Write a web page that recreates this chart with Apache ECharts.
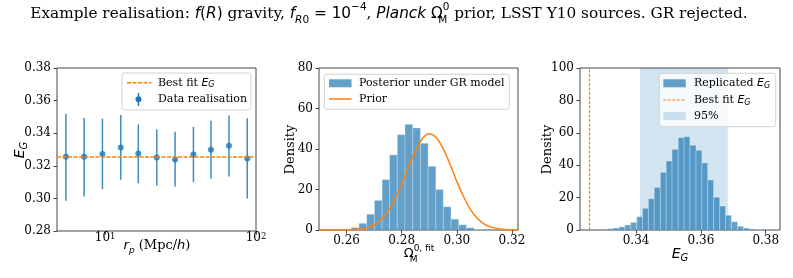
<!DOCTYPE html>
<html><head><meta charset="utf-8">
<script src="https://cdn.jsdelivr.net/npm/echarts@6/dist/echarts.min.js"></script>
<style>html,body{margin:0;padding:0;background:#fff}#c{width:793px;height:278px}</style>
</head><body><div id="c"></div><script>
// ---------- data ----------
const rpValues   = [5.5, 7.26, 9.6, 12.7, 16.6, 22.0, 29.1, 38.5, 50.3, 66.2, 87.5];
const egValues   = [0.3255, 0.3255, 0.3273, 0.3312, 0.3275, 0.3251, 0.3239, 0.3269, 0.3298, 0.3323, 0.3245];
const egLow      = [0.2986, 0.3011, 0.3056, 0.3114, 0.3093, 0.3077, 0.3073, 0.3099, 0.3122, 0.3134, 0.2999];
const egHigh     = [0.3519, 0.3493, 0.3489, 0.3511, 0.3454, 0.3423, 0.3409, 0.3439, 0.3476, 0.3509, 0.3491];
const bestFitEG  = 0.3255;

const postEdges   = [0.2617, 0.2645, 0.2673, 0.2701, 0.2729, 0.2756, 0.2784, 0.2812, 0.2840, 0.2868, 0.2896, 0.2924, 0.2951, 0.2979, 0.3007, 0.3035, 0.3063, 0.3090];
const postHeights = [1.2, 3.3, 7.8, 14.6, 24.9, 37.1, 47.1, 52.2, 50.4, 42.9, 31.5, 20.0, 11.5, 5.4, 2.6, 1.1, 0.3];

const priorX = [0.250, 0.255, 0.2600, 0.2625, 0.2650, 0.2675, 0.2700, 0.2725, 0.2750, 0.2775, 0.2800, 0.2825, 0.2850, 0.2875, 0.2900, 0.2925, 0.2950, 0.2975, 0.3000, 0.3025, 0.3050, 0.3075, 0.3100, 0.3125, 0.3150, 0.3175, 0.3200, 0.3225];
const priorY = [0.0, 0.0, 0.07, 0.2, 0.53, 1.23, 2.6, 5.2, 9.2, 15.1, 22.7, 31.2, 39.2, 45.1, 47.5, 45.7, 40.3, 32.6, 24.0, 16.3, 10.1, 5.7, 2.95, 1.4, 0.61, 0.24, 0.09, 0.02];

const repEdges   = [0.3310, 0.3328, 0.3347, 0.3365, 0.3383, 0.3402, 0.3420, 0.3438, 0.3456, 0.3475, 0.3493, 0.3511, 0.3530, 0.3548, 0.3566, 0.3585, 0.3603, 0.3621, 0.3639, 0.3658, 0.3676, 0.3694, 0.3713, 0.3731, 0.3749, 0.3768, 0.3786];
const repHeights = [0.8, 1.2, 1.9, 3.1, 4.7, 8.2, 13.4, 19.3, 26.3, 35.6, 42.6, 49.8, 57.0, 57.6, 52.3, 49.2, 41.4, 30.9, 20.2, 14.8, 9.1, 5.1, 2.3, 1.2, 0.6, 0.4];
const band95 = [0.3412, 0.3683];

const rpTicks = [10, 100];
const omTicks = [0.26, 0.28, 0.30, 0.32];
const repTicks = [0.34, 0.36, 0.38];

// ---------- style ----------
const SERIF = "'DejaVu Serif', serif";
const SANS = "'DejaVu Sans', sans-serif";
const BLUE = '#1f77b4', ORANGE = '#ff7f0e', SPINE = '#444';

const chart = echarts.init(document.getElementById('c'), null, {renderer: 'canvas'});

function yAx(gi, min, max, interval, fmt) {
  return {type: 'value', gridIndex: gi, min, max, interval,
    axisLine: {show: false}, splitLine: {show: false},
    axisTick: {show: true, length: 3.5, lineStyle: {color: SPINE, width: 1}},
    axisLabel: {color: '#000', fontFamily: SERIF, fontSize: 12, margin: 6, formatter: fmt}};
}
function xAx(gi, type, min, max, ticks, fmt, margin) {
  return {type, gridIndex: gi, min, max, logBase: 10,
    axisLine: {show: false}, splitLine: {show: false},
    axisTick: {show: true, length: 3.5, lineStyle: {color: SPINE, width: 1}, customValues: ticks},
    axisLabel: {color: '#000', fontFamily: SERIF, fontSize: 12, margin: margin, customValues: ticks, formatter: fmt,
      rich: {b: {fontFamily: SERIF, fontSize: 12, color: '#000', lineHeight: 12},
             s: {fontFamily: SERIF, fontSize: 8.5, color: '#000', verticalAlign: 'top', lineHeight: 8}}}};
}
const histRender = (params, api) => {
  const a = api.coord([api.value(0), api.value(2)]);
  const b = api.coord([api.value(1), 0]);
  return {type: 'rect', shape: {x: a[0], y: a[1], width: b[0] - a[0], height: b[1] - a[1]},
    style: {fill: 'rgba(31,119,180,0.7)', stroke: 'rgba(255,255,255,0.35)', lineWidth: 0.8}};
};
const histData = (edges, h) => h.map((v, i) => [edges[i], edges[i + 1], v]);

const gridBase = {show: true, borderColor: SPINE, borderWidth: 1, backgroundColor: 'transparent', containLabel: false, outerBoundsMode: 'none'};

function legendText(x, y, rich, text) {
  return {type: 'text', x, y, z: 101, style: {text, rich, fontFamily: SERIF, fontSize: 11, fill: '#000', verticalAlign: 'middle', align: 'left'}};
}
const legRich = {
  t: {fontFamily: SERIF, fontSize: 11, color: '#000'},
  i: {fontFamily: SANS, fontStyle: 'italic', fontSize: 11, color: '#000'},
  sub: {fontFamily: SANS, fontStyle: 'italic', fontSize: 8, color: '#000', verticalAlign: 'bottom', padding: [5, 0, 0, 0]}
};

const option = {
  animation: false,
  backgroundColor: '#fff',
  grid: [
    Object.assign({left: 57, top: 68, width: 199, height: 163}, gridBase),
    Object.assign({left: 319, top: 68, width: 199, height: 162}, gridBase),
    Object.assign({left: 580, top: 68, width: 200, height: 162}, gridBase)
  ],
  xAxis: [
    xAx(0, 'log', 4.8, 100, rpTicks, v => (v === 10 ? '{b|10}{s|1}' : '{b|10}{s|2}'), 1),
    xAx(1, 'value', 0.25, 0.3222, omTicks, v => v.toFixed(2), 5),
    xAx(2, 'value', 0.3227, 0.3844, repTicks, v => v.toFixed(2), 5)
  ],
  yAxis: [
    yAx(0, 0.28, 0.38, 0.02, v => v.toFixed(2)),
    yAx(1, 0, 80, 20, v => String(v)),
    yAx(2, 0, 100, 20, v => String(v))
  ],
  series: [
    {type: 'custom', xAxisIndex: 0, yAxisIndex: 0, z: 2,
      data: rpValues.map((x, i) => [x, egLow[i], egHigh[i]]),
      encode: {x: 0, y: [1, 2]},
      renderItem: (params, api) => {
        const a = api.coord([api.value(0), api.value(1)]);
        const b = api.coord([api.value(0), api.value(2)]);
        return {type: 'line', shape: {x1: a[0], y1: a[1], x2: b[0], y2: b[1]}, style: {stroke: BLUE, lineWidth: 1.5, opacity: 0.85}};
      }},
    {type: 'scatter', xAxisIndex: 0, yAxisIndex: 0, z: 4, symbolSize: 6,
      itemStyle: {color: BLUE},
      data: rpValues.map((x, i) => [x, egValues[i]]),
      markLine: {silent: true, precision: 6, symbol: ['none', 'none'], label: {show: false},
        lineStyle: {color: ORANGE, type: [4, 1.5], width: 1.5}, data: [{yAxis: bestFitEG}]}},
    {type: 'custom', xAxisIndex: 1, yAxisIndex: 1, z: 2, clip: true,
      data: histData(postEdges, postHeights), encode: {x: [0, 1], y: 2}, renderItem: histRender},
    {type: 'line', xAxisIndex: 1, yAxisIndex: 1, z: 3, smooth: 0.3, symbol: 'none',
      lineStyle: {color: ORANGE, width: 1.5}, data: priorX.map((x, i) => [x, priorY[i]])},
    {type: 'line', xAxisIndex: 2, yAxisIndex: 2, z: 1, data: [],
      markArea: {silent: true, precision: 6, itemStyle: {color: 'rgba(31,119,180,0.2)'}, data: [[{xAxis: band95[0]}, {xAxis: band95[1]}]]}},
    {type: 'custom', xAxisIndex: 2, yAxisIndex: 2, z: 2, clip: true,
      data: histData(repEdges, repHeights), encode: {x: [0, 1], y: 2}, renderItem: histRender},
    {type: 'line', xAxisIndex: 2, yAxisIndex: 2, z: 3, data: [],
      markLine: {silent: true, precision: 6, symbol: ['none', 'none'], label: {show: false},
        lineStyle: {color: ORANGE, type: [3, 1.5], width: 1.2}, data: [{xAxis: bestFitEG}]}}
  ],
  graphic: [
    // title
    {type: 'text', x: 389, y: 14, z: 100, style: {
      text: '{s|Example realisation: }{m|f}{u|(}{m|R}{u|)}{s| gravity, }{m|f}{bi|R}{bu|0}{u| = 10}{sp|−4}{s|, }{m|Planck}{u| Ω}{bz|M}{sp|0}{s| prior, LSST Y10 sources. GR rejected.}',
      align: 'center', verticalAlign: 'middle',
      rich: {
        s: {fontFamily: SERIF, fontSize: 15.3, color: '#000', lineHeight: 24},
        m: {fontFamily: SANS, fontStyle: 'italic', fontSize: 15.3, color: '#000', lineHeight: 24},
        u: {fontFamily: SANS, fontSize: 15.3, color: '#000', lineHeight: 24},
        sp: {fontFamily: SANS, fontSize: 10.5, color: '#000', verticalAlign: 'top', lineHeight: 14},
        bi: {fontFamily: SANS, fontStyle: 'italic', fontSize: 10.5, color: '#000', verticalAlign: 'bottom', lineHeight: 13},
        bu: {fontFamily: SANS, fontSize: 10.5, color: '#000', verticalAlign: 'bottom', lineHeight: 13},
        bz: {fontFamily: SANS, fontSize: 10.5, color: '#000', verticalAlign: 'bottom', lineHeight: 13, width: 0}
      }}},
    // axis titles
    {type: 'text', x: 20, y: 150, rotation: Math.PI / 2, z: 100, style: {
      text: '{i|E}{b|G}', align: 'center', verticalAlign: 'middle',
      rich: {i: {fontFamily: SANS, fontStyle: 'italic', fontSize: 14, color: '#000', lineHeight: 18},
             b: {fontFamily: SANS, fontStyle: 'italic', fontSize: 10, color: '#000', verticalAlign: 'bottom', lineHeight: 12}}}},
    {type: 'text', x: 157, y: 246, z: 100, style: {
      text: '{i|r}{b|p}{s| (Mpc/}{i|h}{s|)}', align: 'center', verticalAlign: 'middle',
      rich: {i: {fontFamily: SANS, fontStyle: 'italic', fontSize: 13, color: '#000', lineHeight: 18},
             s: {fontFamily: SERIF, fontSize: 13, color: '#000', lineHeight: 18},
             b: {fontFamily: SANS, fontStyle: 'italic', fontSize: 9, color: '#000', verticalAlign: 'bottom', lineHeight: 12}}}},
    {type: 'text', x: 291, y: 149.5, rotation: Math.PI / 2, z: 100, style: {
      text: 'Density', align: 'center', verticalAlign: 'middle', fontFamily: SERIF, fontSize: 13, fill: '#000'}},
    {type: 'text', x: 419, y: 254, z: 100, style: {
      text: '{u|Ω}{b|M}{p|0, fit}', align: 'center', verticalAlign: 'middle',
      rich: {u: {fontFamily: SANS, fontSize: 13, color: '#000', lineHeight: 20},
             b: {fontFamily: SANS, fontSize: 9, color: '#000', verticalAlign: 'bottom', lineHeight: 11, width: 0},
             p: {fontFamily: SANS, fontSize: 9, color: '#000', verticalAlign: 'top', lineHeight: 12}}}},
    {type: 'text', x: 547.5, y: 149.5, rotation: Math.PI / 2, z: 100, style: {
      text: 'Density', align: 'center', verticalAlign: 'middle', fontFamily: SERIF, fontSize: 13, fill: '#000'}},
    {type: 'text', x: 680, y: 254, z: 100, style: {
      text: '{i|E}{b|G}', align: 'center', verticalAlign: 'middle',
      rich: {i: {fontFamily: SANS, fontStyle: 'italic', fontSize: 14, color: '#000', lineHeight: 18},
             b: {fontFamily: SANS, fontStyle: 'italic', fontSize: 10, color: '#000', verticalAlign: 'bottom', lineHeight: 12}}}},

    // legend 1
    {type: 'rect', z: 100, shape: {x: 122, y: 73, width: 129, height: 37, r: 2.5}, style: {fill: 'rgba(255,255,255,0.8)', stroke: '#d3d3d3', lineWidth: 1}},
    {type: 'line', z: 101, shape: {x1: 127, y1: 82.7, x2: 151.5, y2: 82.7}, style: {stroke: ORANGE, lineWidth: 1.5, lineDash: [4, 1.5]}},
    legendText(158, 82.7, legRich, '{t|Best fit }{i|E}{sub|G}'),
    {type: 'line', z: 101, shape: {x1: 138.5, y1: 93, x2: 138.5, y2: 106}, style: {stroke: BLUE, lineWidth: 1.5}},
    {type: 'circle', z: 101, shape: {cx: 138.5, cy: 99.3, r: 3}, style: {fill: BLUE}},
    legendText(158, 99.3, legRich, '{t|Data realisation}'),

    // legend 2
    {type: 'rect', z: 100, shape: {x: 324.3, y: 74.3, width: 185, height: 35, r: 2.5}, style: {fill: 'rgba(255,255,255,0.8)', stroke: '#d3d3d3', lineWidth: 1}},
    {type: 'rect', z: 101, shape: {x: 329, y: 79.3, width: 22.5, height: 8}, style: {fill: 'rgba(31,119,180,0.7)'}},
    legendText(359, 83.3, legRich, '{t|Posterior under GR model}'),
    {type: 'line', z: 101, shape: {x1: 329, y1: 99, x2: 351.5, y2: 99}, style: {stroke: ORANGE, lineWidth: 1.5}},
    legendText(359, 99, legRich, '{t|Prior}'),

    // legend 3
    {type: 'rect', z: 100, shape: {x: 659.3, y: 73.3, width: 116.4, height: 53.4, r: 2.5}, style: {fill: 'rgba(255,255,255,0.8)', stroke: '#d3d3d3', lineWidth: 1}},
    {type: 'rect', z: 101, shape: {x: 663.3, y: 79.3, width: 22.4, height: 8}, style: {fill: 'rgba(31,119,180,0.7)'}},
    legendText(694, 83.3, legRich, '{t|Replicated }{i|E}{sub|G}'),
    {type: 'line', z: 101, shape: {x1: 663.3, y1: 100, x2: 685.7, y2: 100}, style: {stroke: ORANGE, lineWidth: 1.2, lineDash: [3, 1.5]}},
    legendText(694, 100, legRich, '{t|Best fit }{i|E}{sub|G}'),
    {type: 'rect', z: 101, shape: {x: 663.3, y: 112, width: 22.4, height: 8}, style: {fill: 'rgba(31,119,180,0.2)'}},
    legendText(694, 116, legRich, '{t|95%}')
  ]
};
chart.setOption(option);
</script></body></html>
